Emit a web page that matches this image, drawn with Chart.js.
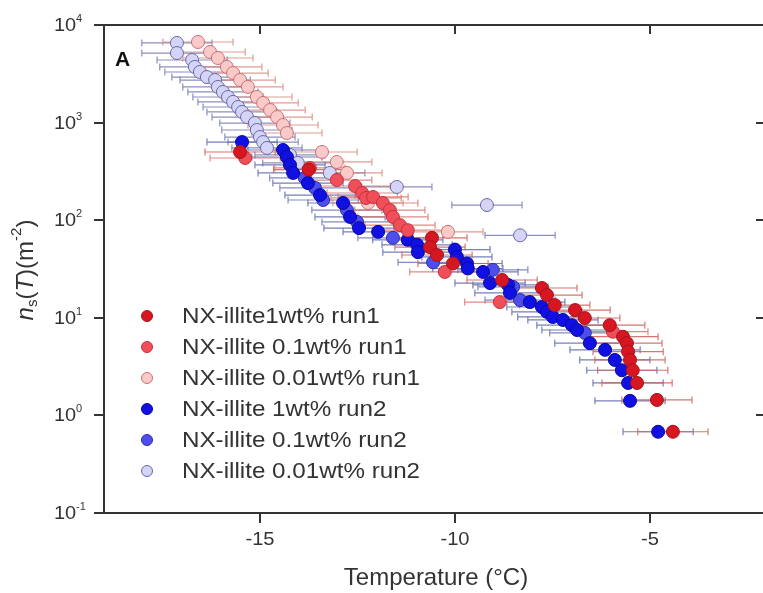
<!DOCTYPE html>
<html>
<head>
<meta charset="utf-8">
<script src="https://cdn.jsdelivr.net/npm/chart.js@4/dist/chart.umd.min.js"></script>
<style>
    html, body { margin: 0; padding: 0; background: #fff; }
    canvas { display: block; }
</style>
</head>
<body>
<canvas id="nsChart" width="763" height="593"></canvas>
<script>
// series names (legend order)
const seriesNames = [
    'NX-illite1wt% run1',
    'NX-illite 0.1wt% run1',
    'NX-illite 0.01wt% run1',
    'NX-illite 1wt% run2',
    'NX-illite 0.1wt% run2',
    'NX-illite 0.01wt% run2'
];

// temperatures (°C) and ns(T) (m^-2)
const tempRun1_1wt = [-15.51, -13.75, -10.59, -10.64, -10.46, -10.05, -8.79, -7.77, -7.64, -7.44, -6.92, -6.67, -6.03, -5.69, -5.59, -5.56, -5.51, -5.44, -5.33, -4.82, -4.41];
const nsRun1_1wt = [500, 330, 66, 53, 44, 36, 24.4, 20.2, 17.1, 13.5, 12.0, 9.95, 8.4, 6.4, 5.5, 4.5, 3.7, 2.9, 2.15, 1.44, 0.68];

const tempRun1_01wt = [-15.38, -13.72, -13.03, -12.56, -12.38, -12.28, -12.10, -11.85, -11.67, -11.59, -11.41, -11.21, -10.26, -8.85, -5.95];
const nsRun1_01wt = [434, 343, 258, 224, 190, 169, 173, 150, 127, 108, 89, 79, 29.5, 14.5, 7.2];

const tempRun1_001wt = [-16.59, -16.28, -16.08, -15.85, -15.69, -15.51, -15.31, -15.08, -14.92, -14.74, -14.56, -14.41, -14.31, -13.41, -13.03, -12.77, -12.23, -10.18];
const nsRun1_001wt = [6700, 5290, 4590, 3720, 3220, 2730, 2320, 1830, 1590, 1345, 1140, 945, 782, 500, 395, 305, 150, 76];

const tempRun2_1wt = [-15.46, -14.41, -14.31, -14.23, -14.15, -13.77, -13.46, -12.87, -12.69, -12.46, -11.97, -11.21, -10.97, -10.95, -10.0, -9.95, -9.69, -9.67, -9.28, -9.10, -8.64, -8.59, -8.08, -7.77, -7.64, -7.49, -7.23, -7.0, -6.87, -6.54, -6.15, -5.90, -5.72, -5.56, -5.51, -4.79];
const nsRun2_1wt = [632, 524, 444, 368, 305, 240, 181, 150, 108, 83, 76, 63, 56, 47, 50, 42, 36, 32, 29.5, 22.7, 21.7, 18, 14.5, 12.9, 11.5, 10.2, 9.5, 8.4, 7.5, 5.5, 4.7, 3.7, 2.9, 2.15, 1.41, 0.68];

const tempRun2_01wt = [-13.85, -13.59, -13.38, -12.77, -12.51, -11.59, -10.56, -9.03, -8.51, -8.33, -6.67];
const nsRun2_01wt = [271, 214, 161, 127, 96, 66, 37, 31, 20.7, 15.2, 7.0];

const tempRun2_001wt = [-17.13, -17.13, -16.74, -16.67, -16.54, -16.36, -16.15, -16.08, -15.95, -15.82, -15.69, -15.56, -15.46, -15.33, -15.13, -15.08, -15.0, -14.92, -14.82, -14.23, -14.03, -13.21, -11.49, -9.18, -8.33];
const nsRun2_001wt = [6550, 5160, 4380, 3720, 3300, 2930, 2730, 2320, 2060, 1830, 1630, 1445, 1285, 1140, 990, 840, 711, 632, 550, 466, 386, 305, 219, 143, 70];

// temperature uncertainty (± °C)
const tempErr = 0.9;

// axis ticks
const xTickValues = [-15, -10, -5];
const xTickLabels = ['-15', '-10', '-5'];
const yTickValues = [0.1, 1, 10, 100, 1000, 10000];
const yTickExponents = ['-1', '0', '1', '2', '3', '4'];

const fillColors = ['rgb(214,22,32)', 'rgb(240,78,88)', 'rgb(250,202,202)', 'rgb(16,16,226)', 'rgb(78,78,236)', 'rgb(212,212,246)'];
const edgeColors = ['rgb(165,20,30)', 'rgb(195,50,60)', 'rgb(205,110,110)', 'rgb(10,10,150)', 'rgb(45,45,170)', 'rgb(105,105,165)'];
const barColors = ['rgba(205,95,85,0.85)', 'rgba(215,110,100,0.8)', 'rgba(215,130,120,0.8)', 'rgba(95,105,175,0.85)', 'rgba(100,110,180,0.8)', 'rgba(110,115,175,0.8)'];

const temps = [tempRun1_1wt, tempRun1_01wt, tempRun1_001wt, tempRun2_1wt, tempRun2_01wt, tempRun2_001wt];
const values = [nsRun1_1wt, nsRun1_01wt, nsRun1_001wt, nsRun2_1wt, nsRun2_01wt, nsRun2_001wt];

const FONT = '"Liberation Sans", Arial, Helvetica, sans-serif';
const INK = '#333';

function drawText(ctx, str, x, y, size, opts) {
    opts = opts || {};
    ctx.save();
    ctx.font = (opts.style || '') + ' ' + size + 'px ' + FONT;
    ctx.fillStyle = opts.color || INK;
    ctx.textBaseline = opts.baseline || 'middle';
    ctx.textAlign = opts.align || 'left';
    ctx.translate(x, y);
    ctx.scale(opts.stretch || 1, 1);
    ctx.fillText(str, 0, 0);
    ctx.restore();
}

const errorBars = {
    id: 'errorBars',
    beforeDatasetsDraw(chart) {
        const ctx = chart.ctx;
        const xs = chart.scales.x, ys = chart.scales.y;
        const area = chart.chartArea;
        ctx.save();
        ctx.beginPath();
        ctx.rect(area.left, area.top, area.right - area.left, area.bottom - area.top);
        ctx.clip();
        ctx.lineWidth = 1.2;
        for (let s = temps.length - 1; s >= 0; s--) {
            ctx.strokeStyle = barColors[s];
            temps[s].forEach((t, i) => {
                const x0 = xs.getPixelForValue(t - tempErr);
                const x1 = xs.getPixelForValue(t + tempErr);
                const y = ys.getPixelForValue(values[s][i]);
                ctx.beginPath();
                ctx.moveTo(x0, y); ctx.lineTo(x1, y);
                ctx.moveTo(x0, y - 3.5); ctx.lineTo(x0, y + 3.5);
                ctx.moveTo(x1, y - 3.5); ctx.lineTo(x1, y + 3.5);
                ctx.stroke();
            });
        }
        ctx.restore();
    }
};

const decorations = {
    id: 'decorations',
    afterDraw(chart) {
        const ctx = chart.ctx;
        const xs = chart.scales.x, ys = chart.scales.y;
        const a = chart.chartArea;

        ctx.save();
        ctx.strokeStyle = INK;
        ctx.lineWidth = 2;
        ctx.beginPath();
        ctx.moveTo(a.right, a.top); ctx.lineTo(a.left, a.top); ctx.lineTo(a.left, a.bottom); ctx.lineTo(a.right, a.bottom);
        ctx.stroke();

        // x ticks: outside at bottom, inside at top
        xTickValues.forEach((v, i) => {
            const px = Math.round(xs.getPixelForValue(v));
            ctx.beginPath();
            ctx.moveTo(px, a.bottom); ctx.lineTo(px, a.bottom + 10);
            ctx.moveTo(px, a.top); ctx.lineTo(px, a.top + 9);
            ctx.stroke();
            drawText(ctx, xTickLabels[i], px, 540, 19, { align: 'center', stretch: 1.06 });
        });

        // y ticks: outside at left, inside at right
        yTickValues.forEach((v, i) => {
            const py = Math.round(ys.getPixelForValue(v));
            ctx.beginPath();
            ctx.moveTo(a.left - 10, py); ctx.lineTo(a.left, py);
            ctx.moveTo(a.right - 7, py); ctx.lineTo(a.right, py);
            ctx.stroke();
            drawText(ctx, '10', 54, py + 1, 19, { stretch: 1.05 });
            drawText(ctx, yTickExponents[i], 76, py - 6, 11);
        });
        ctx.restore();

        // panel letter
        drawText(ctx, 'A', 115, 60, 21, { style: 'bold', color: '#111' });

        // x title
        drawText(ctx, 'Temperature (\u00B0C)', 436, 578, 24, { align: 'center' });

        // y title: n_s(T)(m^-2), rotated
        ctx.save();
        ctx.translate(26, 270);
        ctx.rotate(-Math.PI / 2);
        const parts = [
            { t: 'n', size: 24, style: 'italic', dy: 0 },
            { t: 's', size: 15, style: '', dy: 7 },
            { t: '(', size: 24, style: '', dy: 0 },
            { t: 'T', size: 24, style: 'italic', dy: 0 },
            { t: ')(m', size: 24, style: '', dy: 0 },
            { t: '-2', size: 15, style: '', dy: -9 },
            { t: ')', size: 24, style: '', dy: 0 }
        ];
        let total = 0;
        parts.forEach(p => {
            ctx.font = p.style + ' ' + p.size + 'px ' + FONT;
            p.w = ctx.measureText(p.t).width;
            total += p.w;
        });
        let cx = -total / 2;
        ctx.fillStyle = INK;
        ctx.textBaseline = 'middle';
        parts.forEach(p => {
            ctx.font = p.style + ' ' + p.size + 'px ' + FONT;
            ctx.fillText(p.t, cx, p.dy);
            cx += p.w;
        });
        ctx.restore();

        // legend
        seriesNames.forEach((name, i) => {
            const y = 316 + i * 31;
            ctx.save();
            ctx.beginPath();
            ctx.arc(147, y, 5.5, 0, Math.PI * 2);
            ctx.fillStyle = fillColors[i];
            ctx.fill();
            ctx.lineWidth = 1;
            ctx.strokeStyle = edgeColors[i];
            ctx.stroke();
            ctx.restore();
            drawText(ctx, name, 182, y + 1, 22, { stretch: 1.1 });
        });
    }
};

const datasets = seriesNames.map((name, s) => ({
    label: name,
    data: temps[s].map((t, i) => ({ x: t, y: values[s][i] })),
    backgroundColor: fillColors[s],
    borderColor: edgeColors[s],
    borderWidth: 1,
    pointRadius: 6.5,
    pointHoverRadius: 6.5
}));

new Chart(document.getElementById('nsChart').getContext('2d'), {
    type: 'scatter',
    data: { datasets: datasets },
    options: {
        responsive: false,
        animation: false,
        devicePixelRatio: 1,
        layout: { autoPadding: false, padding: { top: 25, right: 0, bottom: 0, left: 0 } },
        plugins: {
            legend: { display: false },
            tooltip: { enabled: false }
        },
        scales: {
            x: {
                type: 'linear', min: -19, max: -2.1,
                grid: { display: false }, border: { display: false },
                ticks: { display: false },
                afterFit(scale) { scale.height = 80; }
            },
            y: {
                type: 'logarithmic', min: 0.1, max: 10000,
                grid: { display: false }, border: { display: false },
                ticks: { display: false },
                afterFit(scale) { scale.width = 104; }
            }
        }
    },
    plugins: [errorBars, decorations]
});
</script>
</body>
</html>
